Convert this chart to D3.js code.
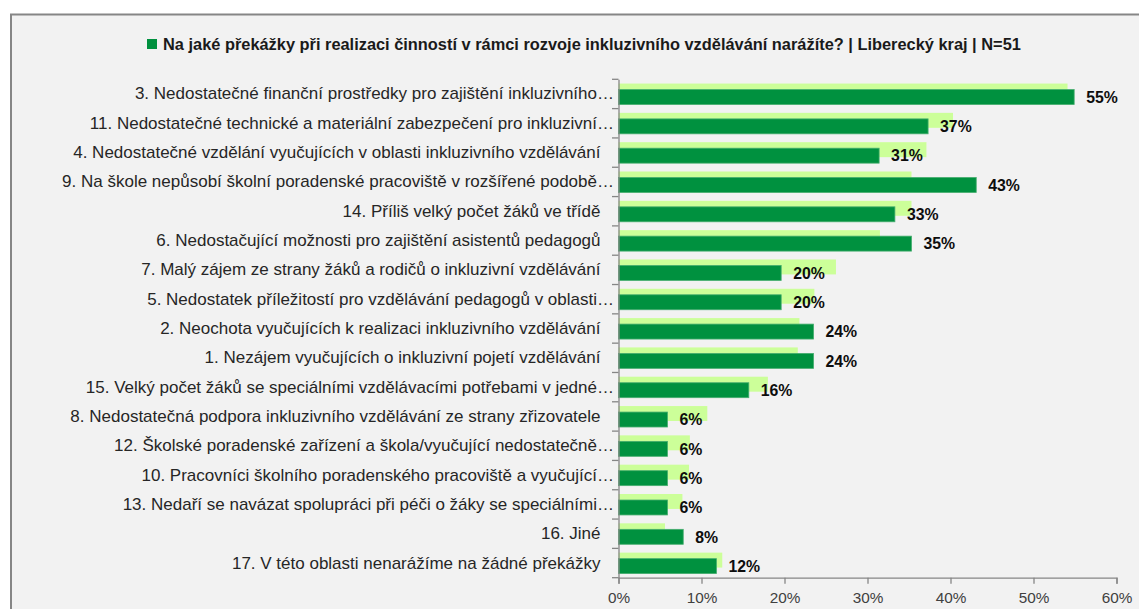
<!DOCTYPE html>
<html>
<head>
<meta charset="utf-8">
<script src="https://cdn.jsdelivr.net/npm/d3@7"></script>
<style>
  body { margin: 0; background: #ffffff; }
  #chart text { font-family: "Liberation Sans", Arial, sans-serif; }
</style>
</head>
<body>
<div id="chart"></div>
<script>
// data (percent of N=51)
var categories = [
  "3. Nedostatečné finanční prostředky pro zajištění inkluzivního…",
  "11. Nedostatečné technické a materiální zabezpečení pro inkluzivní…",
  "4. Nedostatečné vzdělání vyučujících v oblasti inkluzivního vzdělávání",
  "9. Na škole nepůsobí školní poradenské pracoviště v rozšířené podobě…",
  "14. Příliš velký počet žáků ve třídě",
  "6. Nedostačující možnosti pro zajištění asistentů pedagogů",
  "7. Malý zájem ze strany žáků a rodičů o inkluzivní vzdělávání",
  "5. Nedostatek příležitostí pro vzdělávání pedagogů v oblasti…",
  "2. Neochota vyučujících k realizaci inkluzivního vzdělávání",
  "1. Nezájem vyučujících o inkluzivní pojetí vzdělávání",
  "15. Velký počet žáků se speciálními vzdělávacími potřebami v jedné…",
  "8. Nedostatečná podpora inkluzivního vzdělávání ze strany zřizovatele",
  "12. Školské poradenské zařízení a škola/vyučující nedostatečně…",
  "10. Pracovníci školního poradenského pracoviště a vyučující…",
  "13. Nedaří se navázat spolupráci při péči o žáky se speciálními…",
  "16. Jiné",
  "17. V této oblasti nenarážíme na žádné překážky"
];
var krajValues = [54.9, 37.3, 31.4, 43.1, 33.3, 35.3, 19.6, 19.6, 23.5, 23.5, 15.7, 5.9, 5.9, 5.9, 5.9, 7.8, 11.8];
var compareValues = [54.1, 40.3, 37.1, 35.3, 35.3, 31.5, 26.2, 23.6, 21.8, 21.6, 18.0, 10.7, 8.6, 8.5, 7.7, 5.6, 12.5];
var xTicks = [0, 10, 20, 30, 40, 50, 60];
var titleText = "Na jaké překážky při realizaci činností v rámci rozvoje inkluzivního vzdělávání narážíte? | Liberecký kraj | N=51";

var width = 1139, height = 609;
var dark = "#00913f", light = "#ccff99", axisGray = "#868686";

var svg = d3.select("#chart")
            .append("svg")
            .attr("width", width)
            .attr("height", height);

// chart area with its grey frame (runs off right/bottom edge)
svg.append("rect")
   .attr("x", 11)
   .attr("y", 14.5)
   .attr("width", width + 10)
   .attr("height", height + 10)
   .attr("fill", "#f2f2f2")
   .attr("stroke", axisGray)
   .attr("stroke-width", 2);

var x = d3.scaleLinear()
          .domain([0, 60])
          .range([618.5, 1116.5]);

var y = d3.scaleBand()
          .domain(categories)
          .range([79.3, 577.7])
          .padding(0);

var bw = y.bandwidth();
var barH = bw * 0.51;

// title + legend key
var title = svg.append("text")
   .attr("x", 163)
   .attr("y", 50)
   .attr("font-weight", "bold")
   .attr("font-size", "16px")
   .attr("fill", "#1a1a1a")
   .text(titleText);
var tw = title.node().getComputedTextLength();
title.attr("font-size", (16 * 859 / tw) + "px");

svg.append("rect")
   .attr("x", 147)
   .attr("y", 39)
   .attr("width", 10)
   .attr("height", 10)
   .attr("fill", dark);

// comparison bars (light, behind)
svg.selectAll(".light")
   .data(compareValues)
   .enter()
   .append("rect")
   .attr("class", "light")
   .attr("x", x(0))
   .attr("y", (d, i) => y(categories[i]) + bw * 0.145)
   .attr("width", d => x(d) - x(0))
   .attr("height", barH)
   .attr("fill", light);

// kraj bars
svg.selectAll(".dark")
   .data(krajValues)
   .enter()
   .append("rect")
   .attr("class", "dark")
   .attr("x", x(0))
   .attr("y", (d, i) => y(categories[i]) + bw * 0.35)
   .attr("width", d => x(d) - x(0))
   .attr("height", barH)
   .attr("fill", dark)
   .attr("stroke", "#45ad6e")
   .attr("stroke-width", 0.8);

// value labels
svg.selectAll(".value")
   .data(krajValues)
   .enter()
   .append("text")
   .attr("class", "value")
   .attr("x", d => x(d) + 12)
   .attr("y", (d, i) => y(categories[i]) + bw * 0.35 + barH / 2 + 5.8)
   .attr("font-size", "15.8px")
   .attr("font-weight", "bold")
   .attr("fill", "#0d0d0d")
   .text(d => Math.round(d) + "%");

// y axis: line + ticks between categories
var yAxis = svg.append("g")
   .attr("transform", "translate(" + x(0) + ",0)")
   .call(d3.axisLeft(y).tickSize(0).tickFormat(""));
yAxis.select(".domain").attr("stroke", axisGray).attr("stroke-width", 1.3);

var bounds = categories.map(c => y(c)).concat([y.range()[1]]);
yAxis.selectAll(".sep")
   .data(bounds)
   .enter()
   .append("line")
   .attr("x1", -6.5)
   .attr("x2", 0)
   .attr("y1", d => d)
   .attr("y2", d => d)
   .attr("stroke", axisGray)
   .attr("stroke-width", 1.3);

// category labels
var labels = svg.selectAll(".cat")
   .data(categories)
   .enter()
   .append("text")
   .attr("class", "cat")
   .attr("x", d => d.endsWith("…") ? 614 : 600.5)
   .attr("y", d => y(d) + bw / 2 + 5.5)
   .attr("text-anchor", "end")
   .attr("font-size", "15px")
   .attr("fill", "#262626")
   .text(d => d);
var refW = labels.filter((d, i) => i == 2).node().getComputedTextLength();
labels.attr("font-size", (15 * 527.5 / refW) + "px");

// x axis
var xAxis = svg.append("g")
   .attr("transform", "translate(0," + 577.7 + ")")
   .call(d3.axisBottom(x)
           .tickValues(xTicks)
           .tickSize(6)
           .tickPadding(8)
           .tickFormat(d => d + "%"));
xAxis.select(".domain").attr("stroke", axisGray).attr("stroke-width", 1.3);
xAxis.selectAll(".tick line").attr("stroke", axisGray).attr("stroke-width", 1.3);
xAxis.selectAll(".tick text")
     .attr("font-size", "15.3px")
     .attr("fill", "#404040")
     .attr("font-family", "Liberation Sans, Arial, sans-serif");
</script>
</body>
</html>
